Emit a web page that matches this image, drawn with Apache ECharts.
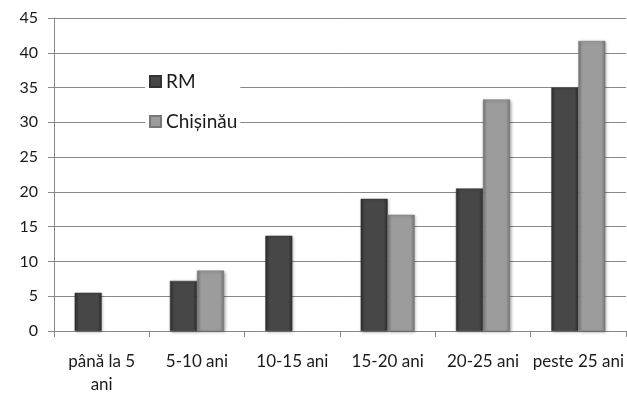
<!DOCTYPE html>
<html><head><meta charset="utf-8">
<script src="https://cdn.jsdelivr.net/npm/echarts@6/dist/echarts.min.js"></script>
<style>html,body{margin:0;padding:0;background:#fff}#c{width:627px;height:400px}</style>
</head><body><div id="c"></div>
<script>
const categories = ["până la 5\nani", "5-10 ani", "10-15 ani", "15-20 ani", "20-25 ani", "peste 25 ani"];
const seriesNames = ["RM", "Chișinău"];
const rmValues = [5.5, 7.2, 13.7, 19.0, 20.5, 35.0];
const chisinauValues = [null, 8.7, null, 16.7, 33.3, 41.7];
const yTicks = {min: 0, max: 45, interval: 5};

const font = "Lato, 'Open Sans', sans-serif";
function grad(edge, mid) {
  return new echarts.graphic.LinearGradient(0, 0, 1, 0, [
    {offset: 0, color: edge}, {offset: 0.15, color: mid}, {offset: 0.85, color: mid}, {offset: 1, color: edge}
  ]);
}
const chart = echarts.init(document.getElementById('c'), null, {renderer: 'canvas'});
chart.setOption({
  animation: false,
  backgroundColor: '#fff',
  grid: {left: 54, right: 1, top: 18, bottom: 69, containLabel: false},
  legend: {
    orient: 'vertical', left: 145, top: 70,
    itemWidth: 11, itemHeight: 11, itemGap: 21,
    backgroundColor: '#fff', padding: [2, 3, 2, 4],
    textStyle: {fontFamily: font, fontSize: 19, color: '#1a1a1a'},
    data: [{name: seriesNames[0], icon: 'rect'}, {name: seriesNames[1], icon: 'rect'}]
  },
  xAxis: {
    type: 'category', data: categories,
    axisLine: {lineStyle: {color: '#888', width: 1}},
    axisTick: {show: true, length: 6, lineStyle: {color: '#888'}},
    axisLabel: {interval: 0, fontFamily: font, fontSize: 17, color: '#1a1a1a', margin: 19, lineHeight: 23}
  },
  yAxis: {
    type: 'value', min: yTicks.min, max: yTicks.max, interval: yTicks.interval,
    axisLine: {show: true, lineStyle: {color: '#888'}},
    axisTick: {show: true, length: 6, lineStyle: {color: '#888'}},
    splitLine: {lineStyle: {color: '#888', width: 1}},
    axisLabel: {fontFamily: font, fontSize: 16, color: '#1a1a1a', margin: 16}
  },
  series: [
    {name: seriesNames[0], type: 'bar', data: rmValues, barWidth: 27, barGap: '0%',
     itemStyle: {color: grad('#2e2e2e', '#474747'), borderColor: '#333', borderWidth: 0.5,
       shadowColor: 'rgba(0,0,0,0.35)', shadowBlur: 3, shadowOffsetX: 1, shadowOffsetY: 1}},
    {name: seriesNames[1], type: 'bar', data: chisinauValues, barWidth: 27, barGap: '0%',
     itemStyle: {color: grad('#777', '#9c9c9c'), borderColor: '#777', borderWidth: 0.5,
       shadowColor: 'rgba(0,0,0,0.35)', shadowBlur: 3, shadowOffsetX: 1, shadowOffsetY: 1}}
  ]
});
</script></body></html>
